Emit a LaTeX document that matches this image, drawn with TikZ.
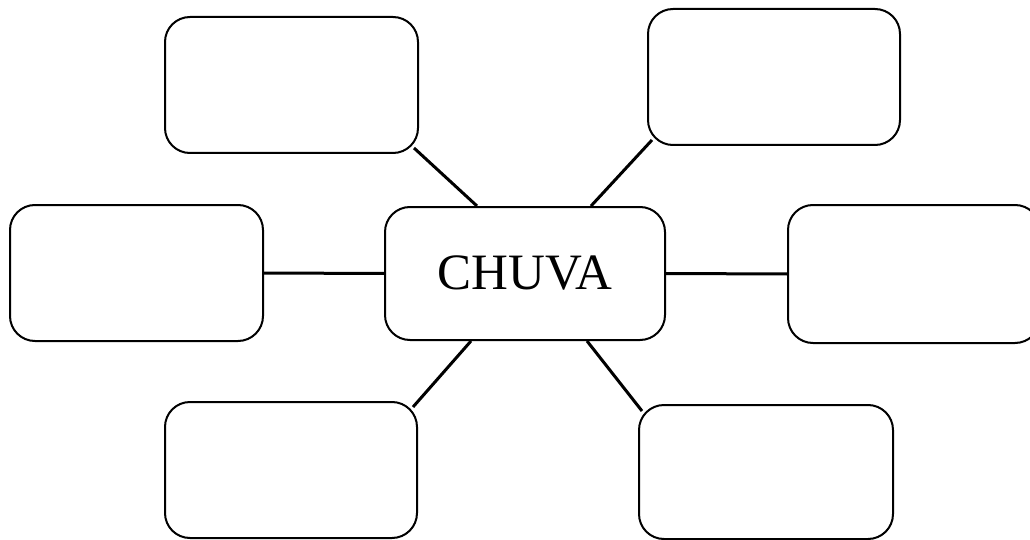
\documentclass[tikz,border=0pt]{standalone}
\usepackage{fontspec}
\setmainfont{Liberation Serif}
\usetikzlibrary{calc}
\begin{document}
\begin{tikzpicture}[x=1pt,y=-1pt,
  box/.style={draw=black, line width=2pt, rounded corners=25pt, fill=white, inner sep=0pt},
  link/.style={draw=black, line width=3pt}]
\useasboundingbox (0,0) rectangle (1030,540);
\node[box, minimum width=280pt, minimum height=133pt, font=\fontsize{51}{60}\selectfont] (c) at (525,273.5) {CHUVA};
\node[box, minimum width=253pt, minimum height=136pt] (tl) at (291.5,85) {};
\node[box, minimum width=252pt, minimum height=136pt] (tr) at (774,77) {};
\node[box, minimum width=253pt, minimum height=136pt] (l) at (136.5,273) {};
\node[box, minimum width=252pt, minimum height=138pt] (r) at (914,274) {};
\node[box, minimum width=252pt, minimum height=136pt] (bl) at (291,470) {};
\node[box, minimum width=254pt, minimum height=134pt] (br) at (766,472) {};
\draw[link] ($(c.north west)+(93,0)$) -- ($(tl.south east)+(-5,-6)$);
\draw[link] ($(c.north east)+(-75,0)$) -- ($(tr.south west)+(5,-6)$);
\draw[link] (c.west) -- (l.east);
\draw[link] (c.east) -- (r.west);
\draw[link] ($(c.south west)+(87,0)$) -- ($(bl.north east)+(-5,6)$);
\draw[link] ($(c.south east)+(-79,0)$) -- ($(br.north west)+(4,7)$);
\end{tikzpicture}
\end{document}
